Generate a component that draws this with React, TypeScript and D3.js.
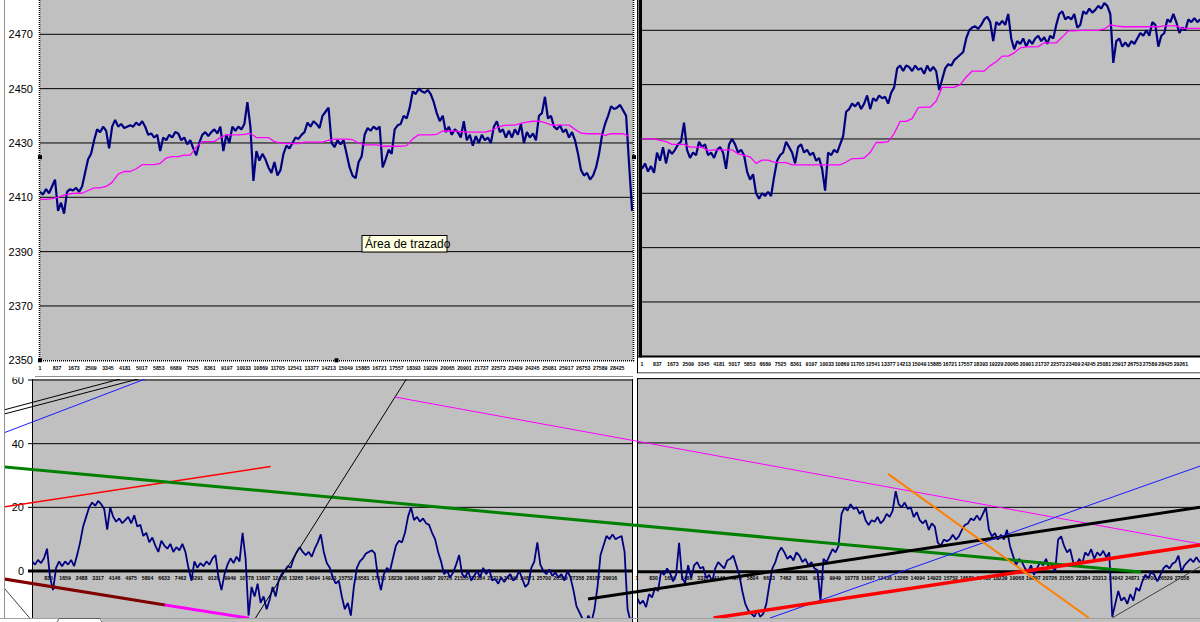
import React, { useEffect, useRef } from 'react';
import * as d3 from 'd3';

// rows between two stored samples of each series
const priceLeftStep = 148;
const avgLeftStep = 296;
const priceRightStep = 163;
const avgRightStep = 326;
const oscStep = 151;

// upper left panel: price and its moving average
const priceLeft = [
  2412, 2411, 2413, 2411.5, 2414, 2416.5, 2405, 2408, 2404, 2412,
  2413, 2412.5, 2413.5, 2412, 2414, 2419, 2424, 2426, 2431, 2435,
  2434, 2436, 2434.5, 2428, 2436, 2438.5, 2436, 2437, 2435.5, 2436,
  2436.5, 2436, 2437.5, 2436.5, 2438, 2436, 2433, 2433.5, 2432, 2433,
  2427, 2432, 2431, 2433, 2432, 2434, 2433.5, 2431, 2432, 2429.5,
  2431, 2428, 2425.5, 2430, 2433, 2434, 2432.5, 2434, 2435, 2433.5,
  2436, 2427, 2433, 2430, 2436, 2434.5, 2436, 2435, 2437, 2445,
  2436, 2416, 2427, 2423.5, 2426, 2424, 2421, 2419, 2423, 2418,
  2420, 2426, 2429, 2428, 2430, 2432, 2431.5, 2433, 2434, 2437.5,
  2436, 2438, 2437, 2435.5, 2440, 2441.5, 2443, 2430, 2428.5, 2431,
  2429.5, 2431, 2426, 2421, 2418, 2417, 2423, 2425, 2433, 2435.5,
  2434.5, 2436, 2435, 2436, 2421, 2424, 2427.5, 2426, 2435, 2436.5,
  2437, 2440, 2439, 2443, 2449, 2448, 2450, 2449, 2448.5, 2449.5,
  2448, 2445, 2441, 2438, 2440, 2434, 2436, 2433, 2435, 2434,
  2432, 2438, 2431, 2433, 2429, 2432.5, 2430, 2433, 2431, 2432,
  2430, 2436, 2438, 2434, 2435, 2432, 2434.5, 2432, 2435, 2433,
  2437, 2430, 2434, 2432, 2433.5, 2431, 2440, 2441, 2447, 2439,
  2440, 2436, 2435, 2436.5, 2434, 2435, 2432, 2434, 2431, 2426,
  2420, 2418, 2419, 2416.5, 2418, 2421, 2426, 2433, 2437, 2440,
  2443.5, 2442.5, 2443, 2444, 2442, 2440, 2422, 2405,
];
const avgLeft = [
  2409.2, 2409.2, 2409.5, 2410, 2410.8, 2411.3, 2411.5, 2411.5, 2412.5, 2413.5,
  2413.5, 2414, 2415.5, 2418.5, 2419.5, 2419.5, 2420.5, 2422, 2422, 2422,
  2422.5, 2424.5, 2425, 2425, 2425.5, 2425.5, 2428.5, 2430.5, 2430.5, 2430.5,
  2432, 2433, 2433, 2433, 2433.2, 2433.5, 2432, 2432, 2432, 2430.5,
  2430, 2429.8, 2429.8, 2429.8, 2430.3, 2430.3, 2430.3, 2430.3, 2431, 2431.4,
  2431.4, 2431.4, 2431.2, 2430, 2429.3, 2429.3, 2429.3, 2428.8, 2428.8, 2428.8,
  2428.8, 2429, 2431.5, 2433, 2433, 2433, 2433.2, 2434.4, 2434.4, 2434.4,
  2434.2, 2434, 2434, 2434, 2434, 2434.5, 2435.6, 2436.4, 2436.6, 2436.6,
  2437.2, 2437.7, 2438, 2438, 2437.5, 2436.7, 2436.6, 2436.6, 2436.6, 2435,
  2433.6, 2433.4, 2433.4, 2433.4, 2432.8, 2433.4, 2433.4, 2433.4, 2432.4,
];

// upper right panel
const priceRight = [
  2419, 2421, 2418, 2420, 2417.5, 2425, 2422, 2427, 2421, 2426,
  2424.5, 2426, 2428, 2429, 2436, 2426, 2423, 2425, 2424, 2429,
  2427, 2428, 2424, 2425, 2423, 2426, 2427, 2425, 2419, 2428,
  2430, 2428, 2425, 2426, 2424, 2418, 2415, 2417, 2410, 2408,
  2410, 2409, 2410.5, 2409, 2416, 2422, 2424, 2425, 2429, 2427,
  2425, 2421, 2427, 2428, 2425, 2426, 2424, 2425, 2422, 2423,
  2419, 2411, 2425, 2424, 2426, 2425, 2428, 2431, 2440, 2441,
  2443, 2442, 2443.5, 2441, 2443, 2446, 2441, 2445, 2444, 2446,
  2445, 2445.5, 2443, 2447, 2449, 2456, 2457, 2455, 2457, 2456.5,
  2455, 2457, 2455.5, 2456, 2454, 2457, 2455, 2456.5, 2455, 2448,
  2452, 2456, 2457.5, 2457, 2459, 2460, 2461, 2462, 2467, 2470,
  2471, 2471.5, 2470.5, 2472, 2474, 2475, 2473, 2466, 2473, 2472,
  2473.5, 2472, 2476, 2467, 2463, 2466, 2465, 2467, 2464, 2466.5,
  2465, 2467, 2468, 2466, 2467.5, 2465, 2468, 2467, 2472, 2476,
  2477, 2474, 2475, 2474, 2476, 2471, 2472, 2477, 2476, 2478,
  2476.5, 2477.5, 2479, 2478, 2480, 2479, 2476, 2458, 2466, 2467,
  2464, 2465.5, 2464, 2466, 2465, 2467, 2469, 2468, 2470, 2468,
  2473, 2472, 2464, 2468, 2469, 2474, 2473, 2476, 2473, 2469,
  2471, 2470, 2474, 2473, 2474.5, 2473, 2474,
];
const avgRight = [
  2430, 2430, 2430, 2429.5, 2429, 2428, 2428, 2428, 2427, 2427,
  2427, 2425.7, 2426, 2426, 2426, 2426, 2424.5, 2424, 2423.4, 2421,
  2422.2, 2422.2, 2421.5, 2421.3, 2421.3, 2420.5, 2420.5, 2420.5, 2420.5, 2420.5,
  2420.5, 2420.5, 2420.5, 2420.5, 2421.5, 2422.8, 2422.8, 2423, 2425, 2428.7,
  2428.7, 2429, 2432, 2436.5, 2436.5, 2437.5, 2441.5, 2441.7, 2441.7, 2444,
  2449, 2449, 2449, 2450, 2452.8, 2455, 2455, 2455, 2457, 2458.4,
  2460.5, 2460.5, 2461.7, 2463.5, 2463.9, 2463.9, 2464, 2465.4, 2465.4, 2465.4,
  2467.5, 2469.8, 2469.8, 2470, 2470, 2470, 2470, 2470.5, 2472, 2471.6,
  2471.3, 2471.3, 2471.3, 2471.3, 2471.3, 2471.3, 2471.3, 2471.6, 2471.6, 2471.6,
  2470.7, 2470.7, 2470.7, 2470.7,
];

// lower panels: oscillator
const oscLeft = [
  3, 2, 3.5, 2.5, 4, 7, -2, -6, 1, 3,
  1.5, 3, 2, 3.5, 1.5, 5, 9, 14, 17, 20,
  21.5, 20.5, 22, 21, 19.5, 13, 20, 17, 15.5, 16.5,
  15, 16, 17, 15, 17.5, 14, 14.5, 11, 12, 9,
  10.5, 8, 6, 9.5, 8, 7, 8.5, 6, 7.5, 6.5,
  8.5, 6, 1, -3, 3, 1, 2.5, 1.5, 3, 2,
  4, 5, -2, -6, -1, 2, 4, 2.5, 4.5, 3,
  12, 4, -14, -5, -8, -4, -10, -8, -12, -9,
  -5, -8, -3, -1, 0, 1.5, 1, 4, 6, 7.5,
  6, 5, 6, 4.5, 7, 9, 11.5, 6, 2.5, 1,
  -2, -4, -3, -8, -12, -10, -14, -5, 1, 3,
  4, 5.5, 6, 6.5, 5.5, -2, -6, -1, 1, 0,
  4, 8, 9.5, 9, 12, 17, 20, 16, 17, 15.5,
  16.5, 15, 14.5, 12, 10, 6, 3, -1, 0, -2,
  -0.5, 2, 5, -1, -2, 0, -3, -1.5, 0, -2,
  1, -1, 0.5, -3, -2.5, -4, -2, -3.5, -2, -1,
  -3, -2, 0, -2.5, -5, -4, 1, 3, 9, 2,
  0, -1, 0.5, -1.5, -0.5, -2, -1, -3, 0, -2,
  -6, -11, -13, -15, -16, -14, -16, -12, -5, 5,
  8, 11, 10, 11.5, 10, 10.5, 11, 6, -12, -16, -14,
];
const oscRight = [
  -8, -10, -9, -11, -7, -8, -5, -6, 0, -1,
  1, -0.5, -3, -1, 9, -2, -3.5, 2, -2, 2,
  3, 1, 1.5, -2, -1, -3, 1, 3, 2, 1,
  3.5, 4, 5, 2, -1, -6, -10, -12, -13, -14,
  -12, -14, -13, -10, -4, 1, 3, 6, 7.5, 6,
  4, 5, 3.5, 6, 5, 3, 4, 2, 3, 1,
  0.5, -9, 4, 3, 5, 7, 6, 8, 18, 20,
  19, 21, 19.5, 20, 18, 19, 16, 14.5, 16, 15.5,
  17, 15, 16, 18, 17, 19, 25, 21, 20, 21.5,
  19.5, 20, 17, 18.5, 16, 15, 16, 13, 15, 14,
  9, 8, 10, 9.5, 10, 11.5, 10, 11, 13, 14.5,
  15, 16.5, 16, 17.5, 16, 18, 20, 13, 11, 12,
  10, 11.5, 10, 13, 8, 5, 2, 4, 3, 1,
  0, 2, -1, 1, 3, 2, 4, 1, 2, 0,
  10, 11, 8, 6, 7, 3, 2, 4, 2.5, 6,
  5, 7, 4, 6, 5, 6.5, 4.5, 6, -14, -10,
  -6, -9, -8, -10, -7, -9, -5, -6, -3, -1,
  -2, 0, -1, -3, -1, 1, 2, 1, 2.5, 3,
  5, 0, 2, 3, 4, 3, 4.5, 3, 3.5,
];

const priceTicks = [2350, 2370, 2390, 2410, 2430, 2450, 2470];
const oscTicks = [0, 20, 40, 60];
const upperRowLabels = [1, 837, 1673, 2509, 3345, 4181, 5017, 5853, 6689, 7525, 8361, 9197,
  10033, 10869, 11705, 12541, 13377, 14213, 15049, 15885, 16721, 17557, 18393, 19229, 20065,
  20901, 21737, 22573, 23409, 24245, 25081, 25917, 26753, 27589, 28425, 29261, 30097];
const lowerRowLabels = [1, 830, 1659, 2488, 3317, 4146, 4975, 5804, 6633, 7462, 8291, 9120,
  9949, 10778, 11607, 12436, 13265, 14094, 14923, 15752, 16581, 17410, 18239, 19068, 19897,
  20726, 21555, 22384, 23213, 24042, 24871, 25700, 26529, 27358, 28187, 29016, 29845];

// trend lines drawn by hand over the lower charts, as [row, value] ends
const trendsLeft = [
  { kind: 'blackThin', from: [-1405, 50.6], to: [4419, 60.3] },
  { kind: 'blackThin', from: [-1405, 49.3], to: [5322, 60.3] },
  { kind: 'blue', from: [-1405, 43.4], to: [5674, 60.3] },
  { kind: 'redThin', from: [-1405, 20.1], to: [11979, 32.8] },
  { kind: 'green', from: [-1405, 32.7], to: [55673, -0.3] },
  { kind: 'blackThin', from: [11095, -16], to: [18826, 60.6] },
  { kind: 'magentaThin', from: [18173, 54.7], to: [58635, 8.5] },
  { kind: 'maroon', from: [-1405, -2.5], to: [6678, -10.7] },
  { kind: 'magentaThick', from: [6678, -10.7], to: [10894, -14.8] },
  { kind: 'grey', from: [-1405, -5.3], to: [51, -16] },
  { kind: 'blackThick', from: [27912, -8.8], to: [58635, 20] },
];
const trendsRight = [
  { kind: 'blue', from: [6678, -14.4], to: [28264, 32.8] },
  { kind: 'redThick', from: [3846, -14.4], to: [28264, 8.3] },
  { kind: 'orange', from: [12601, 30.4], to: [22691, -14.4] },
  { kind: 'grey', from: [23846, -14.4], to: [28264, 1.55] },
];

const trendStyle: Record<string, { color: string; width: number }> = {
  blackThin: { color: '#000000', width: 1 },
  blue: { color: '#1a1aff', width: 1 },
  redThin: { color: '#ff0000', width: 1.5 },
  green: { color: '#008000', width: 3 },
  magentaThin: { color: '#ff00ff', width: 1 },
  maroon: { color: '#800000', width: 3 },
  magentaThick: { color: '#ff00ff', width: 3 },
  grey: { color: '#404040', width: 1 },
  blackThick: { color: '#000000', width: 3 },
  redThick: { color: '#ff0000', width: 3.5 },
  orange: { color: '#ff7f00', width: 2 },
};

const App: React.FC = () => {
  const svgRef = useRef<SVGSVGElement | null>(null);

  useEffect(() => {
    const svg = d3.select(svgRef.current);
    svg.selectAll('*').remove();

    const font = 'Arial, "Liberation Sans", sans-serif';
    const plotGrey = '#c0c0c0';
    const navy = '#000080';

    // scales
    const tlX = d3.scaleLinear().domain([1, 29200]).range([40, 633]);
    const tlY = d3.scaleLinear().domain([2350, 2470]).range([360.3, 34.3]);
    const trX = d3.scaleLinear().domain([1, 30300]).range([642, 1200]);
    const trY = d3.scaleLinear().domain([2350, 2470]).range([356.3, 30.3]);
    const blX = d3.scaleLinear().domain([1, 30121]).range([32, 632]);
    const blY = d3.scaleLinear().domain([0, 60]).range([571, 380]);
    const brX = d3.scaleLinear().domain([1, 28264]).range([637, 1200]);
    const brY = d3.scaleLinear().domain([0, 60]).range([571.7, 378.6]);

    const defs = svg.append('defs');
    const addClip = (id: string, x: number, y: number, w: number, h: number) => {
      defs.append('clipPath').attr('id', id).append('rect')
        .attr('x', x).attr('y', y).attr('width', w).attr('height', h);
    };
    addClip('clipTL', 40, 0, 593, 360.3);
    addClip('clipTR', 642, 0, 558, 356);
    addClip('clipBL', 32.5, 379, 600, 240);
    addClip('clipBR', 638, 379, 562, 240);
    addClip('clipTrend', 5, 379, 1195, 240);

    const drawSeries = (values: number[], step: number, x: any, y: any, color: string, width: number, clipId: string) => {
      const line = d3.line<number>()
        .x((_, i) => x(1 + i * step))
        .y((d) => y(d));
      svg.append('path')
        .datum(values)
        .attr('clip-path', `url(#${clipId})`)
        .attr('d', line)
        .attr('fill', 'none')
        .attr('stroke', color)
        .attr('stroke-width', width)
        .attr('stroke-linejoin', 'bevel');
    };

    // tiny row labels, only those that fit before the edge of their panel
    const rowLabels = (rows: number[], x: any, y: number, edge: number) => {
      svg.append('g')
        .selectAll('text')
        .data(rows.filter((r) => x(r) + 7 < edge))
        .join('text')
        .attr('x', (d) => x(d))
        .attr('y', y)
        .attr('text-anchor', 'middle')
        .attr('font-family', font)
        .attr('font-weight', 'bold')
        .attr('font-size', 5.2)
        .attr('fill', '#000')
        .text((d) => String(d));
    };

    // page background
    svg.append('rect').attr('width', 1200).attr('height', 622).attr('fill', '#fff');
    svg.append('line').attr('x1', 4.5).attr('x2', 4.5).attr('y1', 0).attr('y2', 622)
      .attr('stroke', '#909090');

    // ---------- upper left chart ----------
    svg.append('rect').attr('x', 40).attr('y', 0).attr('width', 593).attr('height', 360.3).attr('fill', plotGrey);
    svg.append('g').selectAll('line')
      .data(priceTicks.slice(1))
      .join('line')
      .attr('x1', 40).attr('x2', 633)
      .attr('y1', (d) => tlY(d)).attr('y2', (d) => tlY(d))
      .attr('stroke', '#000').attr('stroke-width', 1);
    svg.append('g').selectAll('text')
      .data(priceTicks)
      .join('text')
      .attr('x', 33)
      .attr('y', (d) => tlY(d) + 4)
      .attr('text-anchor', 'end')
      .attr('font-family', font)
      .attr('font-size', 11)
      .attr('fill', '#000')
      .text((d) => String(d));
    rowLabels(upperRowLabels, tlX, 369.5, 634);
    drawSeries(priceLeft, priceLeftStep, tlX, tlY, navy, 2.2, 'clipTL');
    drawSeries(avgLeft, avgLeftStep, tlX, tlY, '#ff00ff', 1.3, 'clipTL');

    // selection frame of the plot area
    const [tl0, tl1] = tlX.range();
    const tlBottom = tlY(2350);
    const dotted = (x1: number, y1: number, x2: number, y2: number) =>
      svg.append('line').attr('x1', x1).attr('y1', y1).attr('x2', x2).attr('y2', y2)
        .attr('stroke', '#000').attr('stroke-width', 1.6).attr('stroke-dasharray', '1 1');
    dotted(tl0 - 0.5, 0, tl0 - 0.5, tlBottom + 1);
    dotted(tl0 - 1, tlBottom + 0.5, tl1 + 1, tlBottom + 0.5);
    dotted(tl1 + 0.5, 0, tl1 + 0.5, tlBottom + 1);
    const handleY = (tlBottom - 50) / 2;
    [[tl0 - 2, handleY], [tl1 - 1, handleY], [(tl0 + tl1) / 2 - 2, tlBottom - 2], [tl0 - 2, tlBottom - 2]]
      .forEach(([hx, hy]) => {
        svg.append('rect').attr('x', hx).attr('y', hy).attr('width', 4).attr('height', 4)
          .attr('fill', '#000');
      });

    // tooltip
    const tip = svg.append('g').attr('transform', 'translate(362,235.5)');
    tip.append('rect').attr('width', 85).attr('height', 16.5)
      .attr('fill', '#ffffe1').attr('stroke', '#000').attr('stroke-width', 1);
    tip.append('text').attr('x', 3).attr('y', 12.5)
      .attr('font-family', font).attr('font-size', 12).attr('fill', '#000')
      .text('Área de trazado');

    // ---------- upper right chart ----------
    svg.append('rect').attr('x', 637).attr('y', 0).attr('width', 563).attr('height', 373).attr('fill', '#fff');
    svg.append('rect').attr('x', 642).attr('y', 0).attr('width', 558).attr('height', 356).attr('fill', plotGrey);
    svg.append('g').selectAll('line')
      .data(priceTicks.slice(1))
      .join('line')
      .attr('x1', 642).attr('x2', 1200)
      .attr('y1', (d) => trY(d)).attr('y2', (d) => trY(d))
      .attr('stroke', '#000').attr('stroke-width', 1);
    rowLabels(upperRowLabels, trX, 365.5, 1200);
    drawSeries(priceRight, priceRightStep, trX, trY, navy, 2.2, 'clipTR');
    drawSeries(avgRight, avgRightStep, trX, trY, '#ff00ff', 1.3, 'clipTR');
    svg.append('rect').attr('x', 638.5).attr('y', 0).attr('width', 3.5).attr('height', 357.5).attr('fill', '#000');
    svg.append('rect').attr('x', 638.5).attr('y', 355.5).attr('width', 561.5).attr('height', 2).attr('fill', '#000');
    svg.append('line').attr('x1', 637.5).attr('x2', 637.5).attr('y1', 0).attr('y2', 373).attr('stroke', '#000');
    svg.append('line').attr('x1', 637).attr('x2', 1200).attr('y1', 373).attr('y2', 373).attr('stroke', '#000');
    svg.append('line').attr('x1', 5).attr('x2', 637).attr('y1', 376.5).attr('y2', 376.5).attr('stroke', '#909090');

    // ---------- lower left chart ----------
    svg.append('rect').attr('x', 32.5).attr('y', 379).attr('width', 600).attr('height', 243).attr('fill', plotGrey);
    svg.append('g').selectAll('line')
      .data(oscTicks)
      .join('line')
      .attr('x1', 28).attr('x2', 632.5)
      .attr('y1', (d) => blY(d)).attr('y2', (d) => blY(d))
      .attr('stroke', '#000')
      .attr('stroke-width', (d) => (d === 0 ? 3 : 1));
    svg.append('line').attr('x1', 32.5).attr('x2', 32.5).attr('y1', 379).attr('y2', 622).attr('stroke', '#000');
    svg.append('line').attr('x1', 632.5).attr('x2', 632.5).attr('y1', 379).attr('y2', 622).attr('stroke', '#000');
    svg.append('g').selectAll('text')
      .data(oscTicks)
      .join('text')
      .attr('x', 24)
      .attr('y', (d) => blY(d) + 4)
      .attr('text-anchor', 'end')
      .attr('font-family', font)
      .attr('font-size', 11)
      .attr('fill', '#000')
      .text((d) => String(d));
    svg.append('rect').attr('x', 5).attr('y', 373.5).attr('width', 30).attr('height', 4).attr('fill', '#fff');
    rowLabels(lowerRowLabels.slice(1), blX, 580, 632);
    drawSeries(oscLeft, oscStep, blX, blY, navy, 1.8, 'clipBL');

    // ---------- lower right chart ----------
    svg.append('rect').attr('x', 633).attr('y', 373.5).attr('width', 567).attr('height', 249).attr('fill', '#fff');
    svg.append('rect').attr('x', 637.5).attr('y', 378.5).attr('width', 562.5).attr('height', 243.5).attr('fill', plotGrey);
    svg.append('g').selectAll('line')
      .data(oscTicks)
      .join('line')
      .attr('x1', 637.5).attr('x2', 1200)
      .attr('y1', (d) => brY(d)).attr('y2', (d) => brY(d))
      .attr('stroke', '#000')
      .attr('stroke-width', (d) => (d === 0 ? 3 : 1));
    svg.append('line').attr('x1', 637.5).attr('x2', 637.5).attr('y1', 378).attr('y2', 622).attr('stroke', '#000');
    rowLabels(lowerRowLabels, brX, 580, 1200);
    drawSeries(oscRight, oscStep, brX, brY, navy, 1.8, 'clipBR');

    // hand-drawn trend lines
    const drawTrends = (list: typeof trendsLeft, x: any, y: any) => {
      svg.append('g')
        .attr('clip-path', 'url(#clipTrend)')
        .selectAll('line')
        .data(list)
        .join('line')
        .attr('x1', (d) => x(d.from[0]))
        .attr('y1', (d) => y(d.from[1]))
        .attr('x2', (d) => x(d.to[0]))
        .attr('y2', (d) => y(d.to[1]))
        .attr('stroke', (d) => trendStyle[d.kind].color)
        .attr('stroke-width', (d) => trendStyle[d.kind].width);
    };
    drawTrends(trendsLeft, blX, blY);
    drawTrends(trendsRight, brX, brY);

    // sheet tabs strip at the very bottom
    svg.append('rect').attr('x', 0).attr('y', 618.5).attr('width', 102).attr('height', 4).attr('fill', '#fff');
    svg.append('line').attr('x1', 0).attr('x2', 1200).attr('y1', 618.5).attr('y2', 618.5).attr('stroke', '#a0a0a0');
    svg.append('path').attr('d', 'M57,622 L59,618.5 L100,618.5 L102,622').attr('fill', 'none').attr('stroke', '#606060');
  }, []);

  return (
    <div style={{ position: 'absolute', left: 0, top: 0, width: 1200, height: 622, overflow: 'hidden' }}>
      <svg ref={svgRef} width={1200} height={622} style={{ display: 'block' }}></svg>
    </div>
  );
};

export default App;
